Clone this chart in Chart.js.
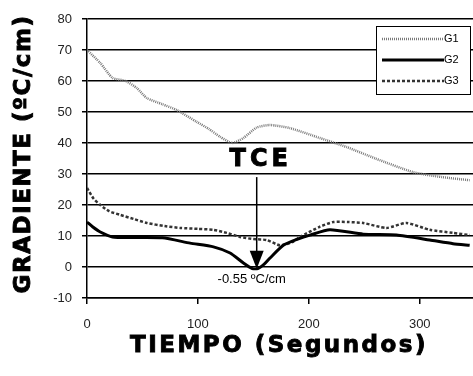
<!DOCTYPE html>
<html>
<head>
<meta charset="utf-8">
<script src="https://cdn.jsdelivr.net/npm/chart.js@4.4.0/dist/chart.umd.min.js"></script>
<style>
  html, body { margin: 0; padding: 0; background: #fff; }
  #wrap { width: 473px; height: 376px; }
</style>
</head>
<body>
<div id="wrap"><canvas id="myChart" width="473" height="376"></canvas></div>
<script>
// values (time in s, gradient in ºC/cm)
const g1Time = [0, 12, 23, 35, 45, 54, 68, 81, 99, 110, 120, 131, 141, 153, 165, 183, 210, 234, 260, 294, 320, 345];
const g1Vals = [70, 65.8, 61, 60, 57.7, 54.5, 52.5, 50.6, 46.8, 44.5, 42, 40, 41.6, 45, 45.8, 44.8, 41.6, 38.7, 35, 30.6, 29, 28];

const g2Time = [0, 5, 12, 23, 40, 68, 93, 114, 129, 141, 149, 154, 160, 165, 177, 190, 201, 219, 249, 279, 309, 330, 345];
const g2Vals = [14.5, 13, 11.3, 9.7, 9.5, 9.4, 7.7, 6.5, 4.5, 1.3, -0.5, -0.5, 1, 2.9, 7, 9, 10.3, 12, 10.6, 10.3, 8.7, 7.5, 7];

const g3Time = [0, 6, 12, 20, 30, 42, 54, 70, 84, 100, 114, 126, 138, 150, 162, 174, 185, 192, 210, 222, 235, 249, 270, 288, 309, 330, 345];
const g3Vals = [25.5, 22, 20, 18, 16.8, 15.5, 14.2, 13.2, 12.6, 12.3, 12, 11, 9.7, 9, 8.7, 7, 8, 9.7, 13, 14.5, 14.5, 14.2, 12.6, 14.2, 12, 11, 10.3];

const seriesNames = ['G1', 'G2', 'G3'];
const xTicks = [0, 100, 200, 300];

// TCE mark
const tceTime = 153;
const tceValue = -0.55;
const tceLabel = 'TCE';
const tceText = '-0.55 ºC/cm';

function toPoints(t, v) {
    return t.map(function (x, i) { return { x: x, y: v[i] }; });
}

// heavy text: fill plus a thin stroke to get the black look
function heavyText(ctx, txt, x, y) {
    ctx.fillText(txt, x, y);
    ctx.strokeText(txt, x, y);
}

const overlay = {
    id: 'overlay',
    afterDatasetsDraw(chart) {
        const ctx = chart.ctx;
        const xs = chart.scales.x;
        const ys = chart.scales.y;
        const px = xs.getPixelForValue(tceTime);

        ctx.save();
        ctx.fillStyle = '#000';
        ctx.strokeStyle = '#000';
        ctx.lineWidth = 0.9;
        ctx.textAlign = 'center';
        ctx.textBaseline = 'middle';

        // TCE text
        ctx.font = 'bold 24px "DejaVu Sans"';
        ctx.letterSpacing = '4px';
        heavyText(ctx, tceLabel, px + 4, ys.getPixelForValue(34.5));
        ctx.letterSpacing = '0px';

        // arrow
        const yTop = ys.getPixelForValue(29);
        const yTip = ys.getPixelForValue(tceValue);
        ctx.lineWidth = 1.5;
        ctx.beginPath();
        ctx.moveTo(px, yTop);
        ctx.lineTo(px, yTip - 14);
        ctx.stroke();
        ctx.beginPath();
        ctx.moveTo(px - 7, yTip - 18);
        ctx.lineTo(px + 7, yTip - 18);
        ctx.lineTo(px, yTip);
        ctx.closePath();
        ctx.fill();

        // value label
        ctx.font = '13px "Liberation Sans"';
        ctx.fillText(tceText, px - 5, ys.getPixelForValue(-4));

        // axis titles
        ctx.lineWidth = 0.9;
        ctx.font = 'bold 23px "DejaVu Sans"';
        ctx.letterSpacing = '2.5px';
        heavyText(ctx, 'TIEMPO (Segundos)', 279, 346);
        ctx.save();
        ctx.translate(24, 154);
        ctx.rotate(-Math.PI / 2);
        ctx.letterSpacing = '1.5px';
        heavyText(ctx, 'GRADIENTE (ºC/cm)', 0, 0);
        ctx.restore();
        ctx.letterSpacing = '0px';

        // legend box
        const lx = 376, ly = 26, lw = 94, lh = 68;
        ctx.fillStyle = '#fff';
        ctx.fillRect(lx, ly, lw, lh);
        ctx.strokeStyle = '#000';
        ctx.lineWidth = 1;
        ctx.strokeRect(lx + 0.5, ly + 0.5, lw, lh);
        ctx.font = '11px "Liberation Sans"';
        ctx.textAlign = 'left';
        chart.data.datasets.forEach(function (ds, i) {
            const ry = ly + 13 + i * 21;
            ctx.strokeStyle = ds.borderColor;
            ctx.lineWidth = ds.borderWidth;
            ctx.setLineDash(ds.borderDash || []);
            ctx.beginPath();
            ctx.moveTo(lx + 6, ry);
            ctx.lineTo(lx + 68, ry);
            ctx.stroke();
            ctx.setLineDash([]);
            ctx.fillStyle = '#000';
            ctx.fillText(ds.label, lx + 68, ry);
        });
        ctx.restore();
    }
};

const ctx = document.getElementById('myChart').getContext('2d');
const myChart = new Chart(ctx, {
    type: 'line',
    data: {
        datasets: [{
            label: seriesNames[0],
            data: toPoints(g1Time, g1Vals),
            borderColor: '#7a7a7a',
            borderWidth: 2.5,
            borderDash: [1, 1],
            pointRadius: 0,
            tension: 0.2
        }, {
            label: seriesNames[1],
            data: toPoints(g2Time, g2Vals),
            borderColor: '#000',
            borderWidth: 3,
            pointRadius: 0,
            tension: 0.2
        }, {
            label: seriesNames[2],
            data: toPoints(g3Time, g3Vals),
            borderColor: '#333',
            borderWidth: 2.5,
            borderDash: [3, 2],
            pointRadius: 0,
            tension: 0.2
        }]
    },
    options: {
        responsive: false,
        animation: false,
        layout: { padding: { left: 0, right: 0, top: 19, bottom: 0 } },
        plugins: {
            legend: { display: false },
            tooltip: { enabled: false }
        },
        scales: {
            x: {
                type: 'linear',
                min: 0,
                max: 348,
                afterBuildTicks: function (s) {
                    s.ticks = xTicks.map(function (v) { return { value: v }; });
                },
                afterFit: function (s) { s.height = 78; },
                grid: {
                    drawOnChartArea: false,
                    drawTicks: true,
                    tickLength: 6,
                    color: '#000',
                    lineWidth: 1.5
                },
                border: { color: '#000', width: 1.5 },
                ticks: {
                    padding: 13,
                    color: '#222',
                    font: { family: 'Liberation Sans', size: 13 }
                }
            },
            y: {
                min: -10,
                max: 80,
                afterFit: function (s) { s.width = 87; },
                grid: {
                    color: '#000',
                    lineWidth: 1.5,
                    tickLength: 5
                },
                border: { color: '#000', width: 1.5 },
                ticks: {
                    stepSize: 10,
                    padding: 10,
                    color: '#222',
                    font: { family: 'Liberation Sans', size: 13 }
                }
            }
        }
    },
    plugins: [overlay]
});
</script>
</body>
</html>
